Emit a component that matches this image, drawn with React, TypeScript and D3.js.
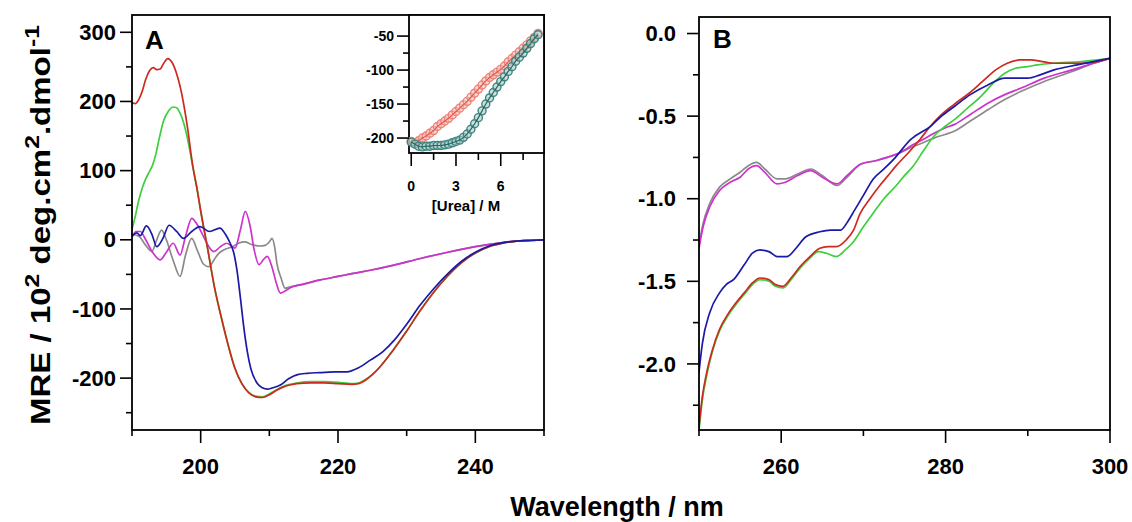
import React from "react";
import * as d3 from "d3";

type P = [number, number];

// Panel A: far-UV CD (wavelength nm, MRE / 10^2)
const redA: P[] = [[190,198],[190.5,197],[191,203],[191.5,215],[192,232],[192.6,245],[193.1,249],[193.6,246],[194.1,247],[194.6,255],[195.2,262],[195.8,257],[196.5,240],[197,222],[198,168],[198.8,110],[199.5,72],[200,42],[201,-12],[202,-68],[203,-112],[204,-152],[205,-186],[206,-208],[207,-221],[208,-227],[209,-228],[210,-224],[211,-218],[212,-213],[213,-210],[214,-208],[216,-207],[218,-207],[220,-208],[222,-209],[223,-208],[224,-203],[225,-195],[226,-185],[228,-160],[230,-132],[232,-102],[234,-75],[236,-52],[238,-33],[240,-19],[242,-10],[244,-5],[246,-2],[248,-1],[250,0]];
const greenA: P[] = [[190,15],[190.5,35],[191,58],[191.5,75],[192,88],[192.5,98],[193,108],[193.5,125],[194,148],[194.6,172],[195.3,186],[196,192],[196.5,191],[197,183],[197.5,170],[198,150],[198.5,125],[198.8,108],[199.5,72],[200,42],[201,-12],[202,-68],[203,-112],[204,-152],[205,-186],[206,-208],[207,-221],[208,-226],[209,-227],[210,-223],[211,-217],[212,-212],[213,-209],[214,-207],[216,-205],[218,-205],[220,-206],[222,-208],[223,-207],[224,-202],[225,-195],[226,-185],[228,-160],[230,-132],[232,-102],[234,-75],[236,-52],[238,-33],[240,-19],[242,-10],[244,-5],[246,-2],[248,-1],[250,0]];
const blueA: P[] = [[190,5],[190.7,10],[191.2,6],[192.1,20],[192.9,8],[193.6,-10],[194.5,2],[195.4,21],[196.5,12],[197.5,2],[198.7,12],[199.9,19],[201.3,12],[202.8,17],[203.6,8],[204.3,-5],[204.8,-18],[205.3,-45],[205.8,-85],[206.3,-128],[206.8,-162],[207.3,-186],[208.2,-207],[209,-214],[209.7,-216],[210.5,-214],[211.6,-210],[212.8,-201],[214.1,-195],[215.5,-193],[217.4,-192],[219.5,-191],[221.3,-191],[223,-185],[224.7,-174],[226.5,-162],[228.2,-145],[230,-122],[232,-94],[234,-70],[236,-49],[238,-31],[240,-18],[242,-9],[244,-4],[246,-2],[248,-1],[250,0]];
const magentaA: P[] = [[190,4],[190.6,12],[191.2,12],[192,0],[193,-18],[194.1,-29],[195,-18],[196,-5],[197,-22],[197.8,5],[198.7,31],[199.5,22],[200.4,5],[201.2,-10],[201.9,-17],[203,-9],[203.8,-5],[205,-12],[205.8,15],[206.5,41],[207.2,20],[207.8,-15],[208.5,-36],[209.2,-28],[209.7,-24],[210.4,-40],[211,-62],[211.6,-77],[212.3,-74],[213.1,-69],[215,-64],[217.4,-58],[220,-53],[222,-49],[224.7,-44],[228,-37],[232,-27],[236,-18],[240,-10],[244,-4],[247,-1],[250,0]];
const grayA: P[] = [[190,8],[191,5],[192,-8],[192.9,-17],[193.6,0],[194.3,14],[195,0],[196,-30],[197,-53],[197.8,-22],[198.7,2],[199.5,-15],[200.4,-35],[201.2,-39],[202,-28],[202.6,-20],[203.5,-14],[204.6,-10],[205.5,-5],[206.5,-3],[207.2,-6],[207.9,-8],[208.6,-9],[209.4,-8],[210,-3],[210.4,2],[210.8,-12],[211.1,-34],[211.7,-55],[212.3,-70],[213.1,-68],[215,-64],[217.4,-58],[220,-53],[222,-49],[224.7,-44],[228,-37],[232,-27],[236,-18],[240,-10],[244,-4],[247,-1],[250,0]];

// Panel B: near-UV CD
const magentaB: P[] = [[250,-1.30],[250.5,-1.17],[251.3,-1.05],[252.5,-0.95],[253.8,-0.90],[255,-0.87],[256,-0.82],[257,-0.80],[258,-0.84],[259.5,-0.91],[260.5,-0.90],[262,-0.86],[263.6,-0.83],[265,-0.87],[266.8,-0.91],[268,-0.86],[269.7,-0.79],[271.5,-0.77],[272.9,-0.75],[274.5,-0.72],[275.8,-0.68],[277.3,-0.64],[278.7,-0.60],[280,-0.57],[281.1,-0.55],[283,-0.49],[285.2,-0.42],[287.2,-0.37],[289.2,-0.33],[292,-0.27],[295.4,-0.22],[298,-0.18],[300,-0.15]];
const grayB: P[] = [[250,-1.28],[250.5,-1.15],[251.3,-1.03],[252.5,-0.93],[253.8,-0.88],[255,-0.84],[256,-0.80],[257,-0.78],[258,-0.82],[259.5,-0.88],[260.5,-0.88],[262,-0.85],[263.6,-0.82],[265,-0.86],[266.8,-0.92],[268,-0.87],[269.7,-0.79],[271.5,-0.77],[272.9,-0.75],[274.5,-0.72],[275.8,-0.69],[277.3,-0.66],[278.7,-0.63],[280,-0.61],[281.1,-0.59],[283,-0.53],[285.2,-0.46],[287.2,-0.40],[289.2,-0.35],[292,-0.29],[295.4,-0.23],[298,-0.18],[300,-0.15]];
const blueB: P[] = [[250,-2.05],[250.4,-1.88],[251.3,-1.69],[252.5,-1.57],[253.3,-1.52],[254.2,-1.49],[255.5,-1.40],[256.5,-1.33],[257.4,-1.31],[258.5,-1.32],[259.5,-1.35],[260.7,-1.35],[261.8,-1.30],[263,-1.23],[264.7,-1.20],[266,-1.19],[267.2,-1.19],[268.2,-1.13],[268.8,-1.08],[270,-0.98],[271.2,-0.88],[272.5,-0.82],[273.7,-0.76],[275.8,-0.64],[278.2,-0.56],[279.5,-0.50],[281.1,-0.44],[283,-0.37],[285.2,-0.31],[287.2,-0.27],[290,-0.27],[291.5,-0.25],[293.2,-0.22],[296,-0.19],[298,-0.17],[300,-0.15]];
const redB: P[] = [[250,-2.38],[250.4,-2.20],[250.9,-2.06],[251.6,-1.92],[252.5,-1.79],[253.5,-1.70],[254.5,-1.63],[255.5,-1.57],[256.5,-1.51],[257.4,-1.48],[258.5,-1.49],[259.3,-1.52],[260.2,-1.53],[261.2,-1.48],[262.3,-1.41],[263.5,-1.35],[264.7,-1.30],[265.7,-1.29],[266.7,-1.29],[267.9,-1.25],[268.8,-1.19],[269.6,-1.09],[270.8,-1.00],[272,-0.92],[273,-0.86],[274,-0.80],[275.5,-0.72],[276.9,-0.64],[278,-0.57],[279.3,-0.50],[281,-0.43],[282.9,-0.36],[284.5,-0.29],[286.1,-0.22],[287.5,-0.18],[289,-0.16],[290.3,-0.16],[291.8,-0.17],[293.2,-0.18],[296.5,-0.18],[298.5,-0.17],[300,-0.15]];
const greenB: P[] = [[250,-2.40],[250.4,-2.22],[250.9,-2.08],[251.6,-1.93],[252.5,-1.80],[253.5,-1.71],[254.5,-1.64],[255.5,-1.58],[256.5,-1.52],[257.4,-1.49],[258.5,-1.50],[259.3,-1.53],[260.2,-1.54],[261.2,-1.49],[262.3,-1.42],[263.5,-1.36],[264.5,-1.32],[265.5,-1.33],[266.7,-1.35],[267.8,-1.31],[268.8,-1.26],[270,-1.17],[271.3,-1.08],[272.5,-1.00],[274,-0.92],[275,-0.86],[276.1,-0.80],[277.3,-0.71],[278.6,-0.62],[280,-0.56],[281.1,-0.52],[282.7,-0.45],[284.3,-0.38],[285.8,-0.30],[287.2,-0.24],[288.5,-0.21],[290,-0.20],[291.2,-0.19],[293,-0.18],[296.5,-0.17],[298.5,-0.16],[300,-0.15]];

// Inset: urea denaturation
const urea: number[] = [0,0.25,0.5,0.75,1,1.25,1.5,1.75,2,2.25,2.5,2.75,3,3.25,3.5,3.75,4,4.25,4.5,4.75,5,5.25,5.5,5.75,6,6.25,6.5,6.75,7,7.25,7.5,7.75,8,8.25,8.5];
const pinkMRE: number[] = [-205,-207,-204,-200,-197,-193,-189,-183,-179,-175,-171,-166,-161,-156,-151,-146,-140,-134,-128,-122,-116,-111,-107,-103,-99,-94,-88,-83,-78,-73,-68,-63,-57,-52,-46];
const tealMRE: number[] = [-206,-209,-212,-213,-212,-212,-211,-211,-211,-210,-209,-207,-205,-203,-199,-194,-187,-179,-170,-160,-150,-141,-133,-125,-117,-110,-102,-95,-87,-81,-75,-68,-61,-54,-48];

const xTicksA = [200, 220, 240];
const xMinorA = [190, 210, 230, 250];
const yTicksA = [-200, -100, 0, 100, 200, 300];
const yMinorA = [-250, -150, -50, 50, 150, 250];
const xTicksB = [260, 280, 300];
const xMinorB = [250, 270, 290];
const yTicksB = [0, -0.5, -1.0, -1.5, -2.0];
const yMinorB = [-0.25, -0.75, -1.25, -1.75, -2.25];
const xTicksI = [0, 3, 6];
const xMinorI = [1.5, 4.5, 7.5];
const yTicksI = [-200, -150, -100, -50];
const yMinorI = [-175, -125, -75];

const COL = { red: "#cc2a20", green: "#3dd03d", blue: "#1a1aa6", magenta: "#cc33cc", gray: "#8a8a8a" };
const FONT = "'Liberation Sans', Arial, Helvetica, sans-serif";

const xA = d3.scaleLinear().domain([190, 250]).range([132, 544]);
const yA = d3.scaleLinear().domain([-275, 325]).range([430, 15]);
const xB = d3.scaleLinear().domain([250, 300]).range([699, 1110]);
const yB = d3.scaleLinear().domain([-2.4, 0.1]).range([430, 17]);
const xI = d3.scaleLinear().domain([-0.15, 8.9]).range([409, 544]);
const yI = d3.scaleLinear().domain([-222, -19]).range([153, 15]);

function path(data: P[], x: any, y: any) {
  return d3.line<P>().x(d => x(d[0])).y(d => y(d[1])).curve(d3.curveMonotoneX)(data) || "";
}

export default function App() {
  const tk = { stroke: "#000", strokeWidth: 1.6 };
  const lw = 1.7;
  return (
    <svg width={1132} height={522} style={{ position: "absolute", left: 0, top: 0, background: "#fff" }} fontFamily={FONT}>
      <defs>
        <clipPath id="clipA"><rect x={132} y={15} width={412} height={415} /></clipPath>
        <clipPath id="clipB"><rect x={699} y={17} width={411} height={413} /></clipPath>
      </defs>
      {/* Panel A */}
      <g clipPath="url(#clipA)" fill="none" strokeWidth={lw}>
        <path d={path(grayA, xA, yA)} stroke={COL.gray} />
        <path d={path(magentaA, xA, yA)} stroke={COL.magenta} />
        <path d={path(greenA, xA, yA)} stroke={COL.green} />
        <path d={path(redA, xA, yA)} stroke={COL.red} />
        <path d={path(blueA, xA, yA)} stroke={COL.blue} />
      </g>
      <rect x={132} y={15} width={412} height={415} fill="none" stroke="#000" strokeWidth={1.8} />
      {yTicksA.map(v => (
        <g key={"ya" + v}>
          <line x1={120} x2={132} y1={yA(v)} y2={yA(v)} {...tk} />
          <text x={116} y={yA(v)} dy="0.35em" textAnchor="end" fontSize={22} fontWeight="bold">{v}</text>
        </g>
      ))}
      {yMinorA.map(v => <line key={"yam" + v} x1={126} x2={132} y1={yA(v)} y2={yA(v)} {...tk} />)}
      {xTicksA.map(v => (
        <g key={"xa" + v}>
          <line x1={xA(v)} x2={xA(v)} y1={430} y2={443} {...tk} />
          <text x={xA(v)} y={474} textAnchor="middle" fontSize={22} fontWeight="bold">{v}</text>
        </g>
      ))}
      {xMinorA.map(v => <line key={"xam" + v} x1={xA(v)} x2={xA(v)} y1={430} y2={436} {...tk} />)}
      <text x={145} y={49} fontSize={26} fontWeight="bold">A</text>

      {/* Inset */}
      <rect x={409} y={15} width={135} height={138} fill="#fff" stroke="#000" strokeWidth={1.8} />
      <g>
        {urea.map((u, i) => (
          <circle key={"p" + i} cx={xI(u)} cy={yI(pinkMRE[i])} r={4} fill="#f7c6bf" fillOpacity={0.6} stroke="#ee8278" strokeWidth={1.4} />
        ))}
        <path d={d3.line<number>().x((u) => xI(u)).y((_, i) => yI(pinkMRE[i])).curve(d3.curveMonotoneX)(urea) || ""} fill="none" stroke="#e0564e" strokeWidth={1.2} />
        {urea.map((u, i) => (
          <circle key={"t" + i} cx={xI(u)} cy={yI(tealMRE[i])} r={4} fill="#a9cbc8" fillOpacity={0.6} stroke="#3f847e" strokeWidth={1.4} />
        ))}
        <path d={d3.line<number>().x((u) => xI(u)).y((_, i) => yI(tealMRE[i])).curve(d3.curveMonotoneX)(urea) || ""} fill="none" stroke="#2a6661" strokeWidth={1.2} />
      </g>
      {yTicksI.map(v => (
        <g key={"yi" + v}>
          <line x1={397} x2={409} y1={yI(v)} y2={yI(v)} {...tk} />
          <text x={394} y={yI(v)} dy="0.35em" textAnchor="end" fontSize={14} fontWeight="bold">{v}</text>
        </g>
      ))}
      {yMinorI.map(v => <line key={"yim" + v} x1={403} x2={409} y1={yI(v)} y2={yI(v)} {...tk} />)}
      {xTicksI.map(v => (
        <g key={"xi" + v}>
          <line x1={xI(v)} x2={xI(v)} y1={153} y2={166} {...tk} />
          <text x={xI(v)} y={191} textAnchor="middle" fontSize={14} fontWeight="bold">{v}</text>
        </g>
      ))}
      {xMinorI.map(v => <line key={"xim" + v} x1={xI(v)} x2={xI(v)} y1={153} y2={160} {...tk} />)}
      <text x={466} y={211} textAnchor="middle" fontSize={15} fontWeight="bold">[Urea] / M</text>

      {/* Panel B */}
      <g clipPath="url(#clipB)" fill="none" strokeWidth={lw}>
        <path d={path(grayB, xB, yB)} stroke={COL.gray} />
        <path d={path(magentaB, xB, yB)} stroke={COL.magenta} />
        <path d={path(greenB, xB, yB)} stroke={COL.green} />
        <path d={path(redB, xB, yB)} stroke={COL.red} />
        <path d={path(blueB, xB, yB)} stroke={COL.blue} />
      </g>
      <rect x={699} y={17} width={411} height={413} fill="none" stroke="#000" strokeWidth={1.8} />
      {yTicksB.map(v => (
        <g key={"yb" + v}>
          <line x1={687} x2={699} y1={yB(v)} y2={yB(v)} {...tk} />
          <text x={676} y={yB(v)} dy="0.35em" textAnchor="end" fontSize={22} fontWeight="bold">{v.toFixed(1)}</text>
        </g>
      ))}
      {yMinorB.map(v => <line key={"ybm" + v} x1={693} x2={699} y1={yB(v)} y2={yB(v)} {...tk} />)}
      {xTicksB.map(v => (
        <g key={"xb" + v}>
          <line x1={xB(v)} x2={xB(v)} y1={430} y2={443} {...tk} />
          <text x={xB(v)} y={474} textAnchor="middle" fontSize={22} fontWeight="bold">{v}</text>
        </g>
      ))}
      {xMinorB.map(v => <line key={"xbm" + v} x1={xB(v)} x2={xB(v)} y1={430} y2={436} {...tk} />)}
      <text x={713} y={48} fontSize={26} fontWeight="bold">B</text>

      {/* Axis titles */}
      <text x={617} y={516} textAnchor="middle" fontSize={27} fontWeight="bold">Wavelength / nm</text>
      <text transform="translate(50,225) rotate(-90)" textAnchor="middle" fontSize={28} fontWeight="bold" textLength={400} lengthAdjust="spacingAndGlyphs">
        MRE / 10<tspan dy={-11} fontSize={21}>2</tspan><tspan dy={11}> deg.cm</tspan><tspan dy={-11} fontSize={21}>2</tspan><tspan dy={11}>.dmol</tspan><tspan dy={-11} fontSize={21}>-1</tspan>
      </text>
    </svg>
  );
}
